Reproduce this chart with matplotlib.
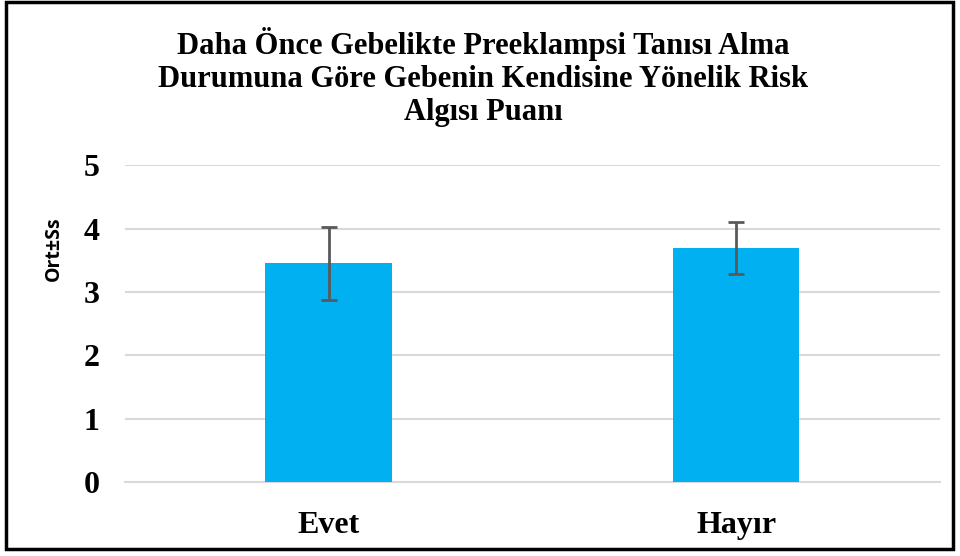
# bar chart: risk perception score by previous preeclampsia diagnosis

import matplotlib
matplotlib.use('Agg')
import matplotlib.pyplot as plt
from matplotlib.patches import Rectangle

categories = ['Evet', 'Hayır']
means      = [3.45, 3.70]
sds        = [0.57, 0.41]
yticks     = [0, 1, 2, 3, 4, 5]

title = 'Daha Önce Gebelikte Preeklampsi Tanısı Alma\nDurumuna Göre Gebenin Kendisine Yönelik Risk\nAlgısı Puanı'

serif = ['Liberation Serif', 'DejaVu Serif']

fig = plt.figure(figsize=(9.6, 5.56), dpi=100)
ax = fig.add_axes([0.130, 0.133, 0.849, 0.570])

x = list(range(len(categories)))
ax.bar(x, means, width=0.31, color='#00b0f0', zorder=3)
ax.errorbar(x, means, yerr=sds, fmt='none', ecolor='#595959',
            elinewidth=2, capsize=6, capthick=2, zorder=4)

ax.set_xlim(-0.5, 1.5)
ax.set_ylim(0, 5)
ax.set_yticks(yticks)
ax.set_yticklabels([str(v) for v in yticks], family=serif, fontsize=23, fontweight='bold')
ax.set_xticks(x)
ax.set_xticklabels(categories, family=serif, fontsize=23, fontweight='bold')
ax.tick_params(axis='both', length=0)
ax.tick_params(axis='y', pad=18)
ax.tick_params(axis='x', pad=21)
ax.grid(axis='y', color='#d9d9d9', linewidth=1.5, zorder=0)
for s in ['top', 'right', 'left']:
    ax.spines[s].set_visible(False)
ax.spines['bottom'].set_color('#d9d9d9')
ax.spines['bottom'].set_linewidth(1.5)

ax.set_ylabel('Ort±Ss', family=['Open Sans', 'DejaVu Sans'], fontsize=14, fontweight='bold')
ax.yaxis.set_label_coords(-0.075, 0.735)

fig.text(0.503, 0.952, title, ha='center', va='top', family=serif,
         fontsize=22, fontweight='bold', linespacing=1.18)

# black frame round the whole chart
fig.add_artist(Rectangle((6/960, 1 - 549/556), 947/960, 547/556, transform=fig.transFigure,
                         fill=False, edgecolor='black', linewidth=2.5))

fig.savefig('out.png', dpi=100)
